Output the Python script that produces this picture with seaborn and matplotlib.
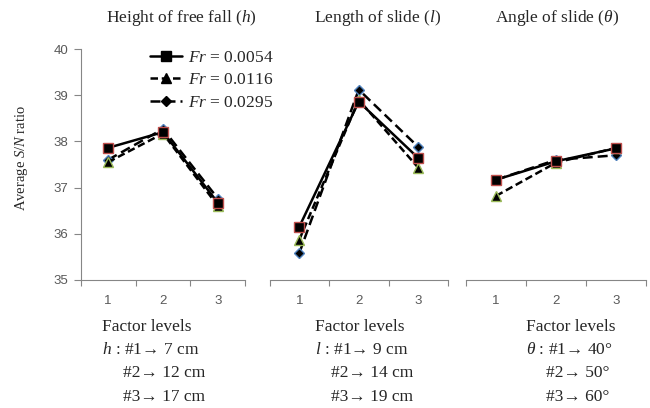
import numpy as np
import pandas as pd
import matplotlib
matplotlib.use("Agg")
import matplotlib.pyplot as plt
from matplotlib.lines import Line2D
import seaborn as sns

sns.set_style("white")
plt.rcParams['font.family'] = ['Liberation Serif', 'DejaVu Serif']
plt.rcParams['mathtext.fontset'] = 'custom'
plt.rcParams['mathtext.rm'] = 'Liberation Serif'
plt.rcParams['mathtext.it'] = 'Liberation Serif:italic'

# data
levels = ["1", "2", "3"]
fr_labels = ["0.0054", "0.0116", "0.0295"]
height_vals = [[37.86, 38.20, 36.67],
               [37.55, 38.17, 36.60],
               [37.60, 38.27, 36.76]]
length_vals = [[36.15, 38.86, 37.64],
               [35.87, 38.90, 37.43],
               [35.58, 39.12, 37.88]]
angle_vals = [[37.17, 37.57, 37.85],
              [36.82, 37.54, 37.86],
              [37.17, 37.60, 37.70]]
titles = [r"Height of free fall ($h$)", r"Length of slide ($l$)", r"Angle of slide ($\theta$)"]
notes = [[r"$h$ : #1→ 7 cm", "#2→ 12 cm", "#3→ 17 cm"],
         [r"$l$ : #1→ 9 cm", "#2→ 14 cm", "#3→ 19 cm"],
         [r"$\theta$ : #1→ 40°", "#2→ 50°", "#3→ 60°"]]

markers = ["s", "^", "D"]
msizes = [7, 7, 5.5]
edges = ["#c0504d", "#9bbb59", "#4f81bd"]
styles = ["-", (0, (3, 1.5)), (0, (4, 2))]

W, H = 650, 408
fig = plt.figure(figsize=(6.5, 4.08), dpi=100)
boxes = [(80.5, 245.5), (269.5, 448), (466, 646)]
ax_bot, ax_top = 280, 49
note_x = [(102, 123), (315, 331), (526, 546)]
title_cx = [181, 378, 557]
grey = "#868686"
tick_col = "#595959"
fs = 12.5

for p, vals in enumerate([height_vals, length_vals, angle_vals]):
    x0, x1 = boxes[p]
    ax = fig.add_axes([x0 / W, 1 - ax_bot / H, (x1 - x0) / W, (ax_bot - ax_top) / H])
    for i, lab in enumerate(fr_labels):
        df = pd.DataFrame({"pos": np.arange(3), "val": vals[i]})
        sns.lineplot(data=df, x="pos", y="val", ax=ax, color="black", lw=1.8,
                     linestyle=styles[i], marker=markers[i], ms=msizes[i],
                     mfc="black", mec=edges[i], mew=1.0, zorder=3 - i)
    ax.set_xlim(-0.5, 2.5)
    ax.set_ylim(35, 40)
    ax.set_xlabel("")
    ax.set_ylabel("")
    ax.set_xticks([0, 1, 2])
    ax.set_xticklabels(levels, family="Liberation Sans", fontsize=9.5, color=tick_col)
    ax.set_xticks([-0.5, 0.5, 1.5, 2.5], minor=True)
    ax.tick_params(axis="x", which="major", length=0, pad=11)
    ax.tick_params(axis="x", which="minor", length=4, color=grey, width=0.8, bottom=True)
    for s in ["top", "right"]:
        ax.spines[s].set_visible(False)
    ax.spines["bottom"].set_color(grey)
    if p == 0:
        ax.spines["left"].set_color(grey)
        ax.set_yticks([35, 36, 37, 38, 39, 40])
        ax.set_yticklabels(["35", "36", "37", "38", "39", "40"],
                           family="Liberation Sans", fontsize=9.5, color=tick_col)
        ax.tick_params(axis="y", length=5, color=grey, width=0.8, left=True, pad=4)
    else:
        ax.spines["left"].set_visible(False)
        ax.set_yticks([])
    fig.text(title_cx[p] / W, 1 - 18 / H, titles[p], ha="center", va="center", fontsize=fs)
    fig.text(note_x[p][0] / W, 1 - 327 / H, "Factor levels", ha="left", va="center", fontsize=fs)
    fig.text(note_x[p][0] / W, 1 - 350 / H, notes[p][0], ha="left", va="center", fontsize=fs)
    fig.text(note_x[p][1] / W, 1 - 373 / H, notes[p][1], ha="left", va="center", fontsize=fs)
    fig.text(note_x[p][1] / W, 1 - 397 / H, notes[p][2], ha="left", va="center", fontsize=fs)

fig.text(22 / W, 1 - 158 / H, r"Average $S/N$ ratio", rotation=90, ha="center", va="center", fontsize=10.5)

handles = [Line2D([], [], color="black", lw=1.8, linestyle=styles[i], marker=markers[i],
                  ms=msizes[i], mfc="black", mec="black") for i in range(3)]
fig.legend(handles, [r"$Fr$ = " + f for f in fr_labels], loc="upper left",
           bbox_to_anchor=(150 / W, 1 - 50 / H), bbox_transform=fig.transFigure,
           frameon=False, fontsize=fs, borderpad=0, borderaxespad=0,
           handlelength=1.85, handletextpad=0.35, labelspacing=0.35)

fig.savefig("out.png", dpi=100)
